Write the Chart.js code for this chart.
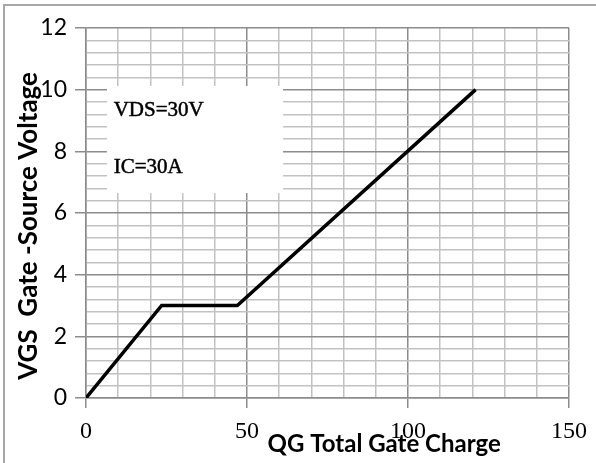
<!DOCTYPE html>
<html>
<head>
<meta charset="utf-8">
<title>Gate Charge</title>
<script src="https://cdn.jsdelivr.net/npm/chart.js@4.4.1/dist/chart.umd.min.js"></script>
<style>
  html, body { margin: 0; padding: 0; background: #ffffff; }
  #wrap { width: 596px; height: 463px; }
</style>
</head>
<body>
<div id="wrap"><canvas id="c" width="596" height="463"></canvas></div>
<script>
// Gate charge curve: total gate charge (nC) vs gate-source voltage (V)
const qgCharge   = [0, 23.5, 47, 121];
const vgsVoltage = [0, 3, 3, 10];

// Axis labelling
const xTickLabels = ['0', '50', '100', '150'];
const yTickLabels = ['0', '2', '4', '6', '8', '10', '12'];
const xTitle = 'QG Total Gate Charge';
const yTitle = 'VGS  Gate -Source Voltage';
const testConditions = ['VDS=30V', 'IC=30A'];

const MAJOR = '#8c8c8c';
const MINOR = '#c2c2c2';

const isMajorX = v => Math.round(v) % 50 === 0;
const isMajorY = v => Math.round(v * 10) % 20 === 0;

// Thin frame around the whole figure
const framePlugin = {
  id: 'frame',
  beforeDraw(chart) {
    const ctx = chart.ctx;
    ctx.save();
    ctx.fillStyle = '#ffffff';
    ctx.fillRect(0, 0, chart.width, chart.height);
    ctx.strokeStyle = '#a6a6a6';
    ctx.lineWidth = 2;
    ctx.strokeRect(4, 5, chart.width + 20, chart.height + 20);
    ctx.restore();
  }
};

// White note box with the test conditions, placed in data units
const notePlugin = {
  id: 'note',
  beforeDatasetsDraw(chart) {
    const { ctx, scales: { x, y } } = chart;
    const left = x.getPixelForValue(6.5), right = x.getPixelForValue(61.2);
    const top = y.getPixelForValue(10.12), bottom = y.getPixelForValue(6.65);
    ctx.save();
    ctx.fillStyle = '#ffffff';
    ctx.fillRect(left, top, right - left, bottom - top);
    ctx.fillStyle = '#000000';
    ctx.strokeStyle = '#000000';
    ctx.lineWidth = 0.5;
    ctx.font = '21px "Liberation Serif", serif';
    ctx.textBaseline = 'middle';
    ctx.textAlign = 'left';
    const tx = x.getPixelForValue(8.6);
    [[testConditions[0], 9.32], [testConditions[1], 7.48]].forEach(([t, v]) => {
      const ty = y.getPixelForValue(v);
      ctx.fillText(t, tx, ty);
      ctx.strokeText(t, tx, ty);
    });
    ctx.restore();
  }
};

// Axis titles, set off-centre as on the original sheet
const titlePlugin = {
  id: 'titles',
  afterDraw(chart) {
    const { ctx, scales: { x, y } } = chart;
    ctx.save();
    ctx.fillStyle = '#000000';
    ctx.font = 'bold 24px Lato, "Liberation Sans", sans-serif';
    ctx.textAlign = 'center';
    ctx.textBaseline = 'alphabetic';
    ctx.fillText(xTitle, x.getPixelForValue(92.6), 452);
    ctx.translate(37, y.getPixelForValue(5.58));
    ctx.rotate(-Math.PI / 2);
    ctx.font = 'bold 26px Lato, "Liberation Sans", sans-serif';
    ctx.fillText(yTitle, 0, 0);
    ctx.restore();
  }
};

new Chart(document.getElementById('c'), {
  type: 'line',
  data: {
    datasets: [{
      data: qgCharge.map((q, i) => ({ x: q, y: vgsVoltage[i] })),
      borderColor: '#000000',
      borderWidth: 3.5,
      pointRadius: 0,
      tension: 0,
      fill: false
    }]
  },
  options: {
    responsive: false,
    animation: false,
    devicePixelRatio: 1,
    layout: { padding: { left: 0, top: 28, right: 26, bottom: 0 } },
    plugins: { legend: { display: false }, tooltip: { enabled: false } },
    scales: {
      x: {
        type: 'linear',
        min: 0, max: 150,
        afterFit(s) { s.height = 65; },
        ticks: {
          stepSize: 10,
          autoSkip: false,
          maxRotation: 0,
          padding: 9,
          color: '#000000',
          font: { family: '"Liberation Serif", serif', size: 24 },
          callback: v => isMajorX(v) ? xTickLabels[Math.round(v) / 50] : ''
        },
        grid: {
          color: c => isMajorX(c.tick.value) ? MAJOR : MINOR,
          lineWidth: 1.5,
          tickLength: 10,
          tickColor: c => isMajorX(c.tick.value) ? MAJOR : 'rgba(0,0,0,0)',
          tickWidth: 1.5
        },
        border: { display: true, color: MAJOR, width: 1.5 }
      },
      y: {
        type: 'linear',
        min: 0, max: 12,
        afterFit(s) { s.width = 86; },
        ticks: {
          stepSize: 0.4,
          autoSkip: false,
          padding: 8,
          color: '#000000',
          font: { family: 'Lato, "Liberation Sans", sans-serif', size: 23 },
          callback: v => isMajorY(v) ? yTickLabels[Math.round(v * 10) / 20] : ''
        },
        grid: {
          color: c => isMajorY(c.tick.value) ? MAJOR : MINOR,
          lineWidth: 1.5,
          tickLength: 11,
          tickColor: c => isMajorY(c.tick.value) ? MAJOR : 'rgba(0,0,0,0)',
          tickWidth: 1.5
        },
        border: { display: true, color: MAJOR, width: 1.5 }
      }
    }
  },
  plugins: [framePlugin, notePlugin, titlePlugin]
});
</script>
</body>
</html>
